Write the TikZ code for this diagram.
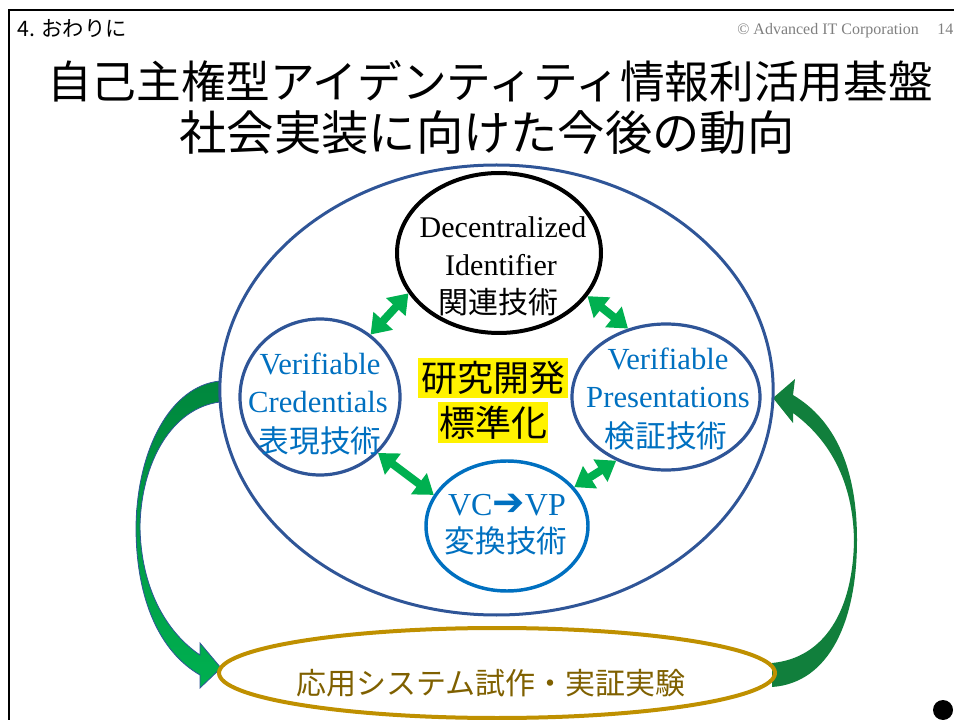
\documentclass[tikz,border=0pt]{standalone}
\usepackage{fontspec}
\setmainfont{Liberation Serif}
\newfontfamily\jp{Noto Sans CJK JP}
\newfontfamily\dv{DejaVu Sans}
\usetikzlibrary{shapes.geometric,arrows.meta}
\definecolor{dblue}{HTML}{2F5597}
\definecolor{mblue}{HTML}{0070C0}
\definecolor{gold}{HTML}{BF9000}
\definecolor{goldtxt}{HTML}{7F6000}
\definecolor{lgreen}{HTML}{00B050}
\definecolor{dgreen}{HTML}{00873D}
\definecolor{rgreen}{HTML}{117F3C}
\definecolor{mgreen}{HTML}{2A9A55}
\definecolor{gray1}{HTML}{7F7F7F}
\tikzset{
  lt/.style={anchor=base, inner sep=0pt, font={\fontsize{#1pt}{#1pt}\selectfont}},
  jt/.style={anchor=base, inner sep=0pt, font={\jp\fontsize{#1pt}{#1pt}\selectfont}},
  hlbox/.style={fill=yellow, inner sep=0pt, font={\jp\fontsize{27pt}{27pt}\selectfont}, text height=23.8pt, text depth=3.2pt},
  dbl/.style={draw=lgreen, line width=6pt, {Triangle[width=19pt,length=14pt]}-{Triangle[width=19pt,length=14pt]}},
  bubble/.style={ellipse, inner sep=0pt},
}
\begin{document}
\begin{tikzpicture}[x=0.75pt,y=-0.75pt]
\useasboundingbox (0,0) rectangle (954,720);

% frame
\draw[line width=1.5pt] (9,720) -- (9,10.5) -- (954,10.5);

% header texts
\node[jt=16, anchor=base west] (sec) at (17,37) {4. おわりに};
\node[lt=12, anchor=base east, text=gray1] (copy) at (919,35) {© Advanced IT Corporation};
\node[lt=12, anchor=base west, text=gray1] (page) at (937,35) {14};

% title
\node[jt=33.5] (t1) at (490,99) {自己主権型アイデンティティ情報利活用基盤};
\node[jt=35.5] (t2) at (487,151) {社会実装に向けた今後の動向};

% big curved arrows
\shade[top color=dgreen, bottom color=lgreen, draw=dblue, line width=0.6pt]
  (220,381) .. controls (170,386) and (137,450) .. (136,527)
  .. controls (136,600) and (160,652) .. (200,675)
  -- (200,688) -- (221,668) -- (200,643) -- (200,655)
  .. controls (166,632) and (141,588) .. (140,527)
  .. controls (141,462) and (172,408) .. (220,402) -- cycle;
\shade[top color=rgreen, middle color=mgreen, bottom color=rgreen]
  (772,687) .. controls (830,683) and (857,620) .. (857,540)
  .. controls (857,468) and (835,420) .. (793,395)
  -- (795,379) -- (773,398) -- (793,423) -- (793,413)
  .. controls (830,440) and (853,482) .. (854,540)
  .. controls (853,610) and (825,658) .. (772,663) -- cycle;

% ellipses
\node[bubble, draw=dblue, line width=2.25pt, minimum width=415pt, minimum height=337.5pt] (big) at (496.5,390) {};
\node[bubble, draw=black, line width=3pt, minimum width=153pt, minimum height=120pt] (did) at (499,253) {};
\node[bubble, draw=dblue, line width=2.4pt, minimum width=120pt, minimum height=117pt] (vc) at (320,397) {};
\node[bubble, draw=dblue, line width=2.4pt, minimum width=141pt, minimum height=109.5pt] (vp) at (666,397) {};
\node[bubble, draw=mblue, line width=2.6pt, minimum width=121.5pt, minimum height=97.5pt] (vcvp) at (507,526) {};
\node[bubble, draw=gold, line width=3pt, minimum width=417pt, minimum height=67.5pt] (app) at (497,673) {};

% double arrows
\draw[dbl] (vc.51) -- (did.204);
\draw[dbl] (did.334) -- (vp.119);
\draw[dbl] (vc.316) -- (vcvp.157.5);
\draw[dbl] (vp.232) -- (vcvp.30);

% texts in bubbles
\node[lt=22.5] (did1) at (503,238) {Decentralized};
\node[lt=22.5] (did2) at (501,276) {Identifier};
\node[jt=22.5] (did3) at (498,314) {関連技術};

\node[lt=23, text=mblue] (vc1) at (320,375) {Verifiable};
\node[lt=23, text=mblue] (vc2) at (318,413) {Credentials};
\node[jt=23, text=mblue] (vc3) at (320,452) {表現技術};

\node[lt=23, text=mblue] (vp1) at (668,370) {Verifiable};
\node[lt=23, text=mblue] (vp2) at (668,408) {Presentations};
\node[jt=23, text=mblue] (vp3) at (666,447) {検証技術};

\node[lt=24, text=mblue] (cv1) at (507,515.5) {VC{\dv\fontsize{29pt}{29pt}\selectfont ➔}VP};
\node[jt=23, text=mblue] (cv2) at (506,552) {変換技術};

\node[hlbox, inner xsep=2.25pt, inner ysep=1.5pt] (rd) at (493,378) {研究開発};
\node[hlbox, inner xsep=1pt, inner ysep=1.8pt] (std) at (493,422.5) {標準化};

\node[jt=22.5, text=goldtxt] (appt) at (491,694.4) {応用システム試作・実証実験};

% dot
\fill (943,710) circle[radius=7.5pt];
\end{tikzpicture}
\end{document}
